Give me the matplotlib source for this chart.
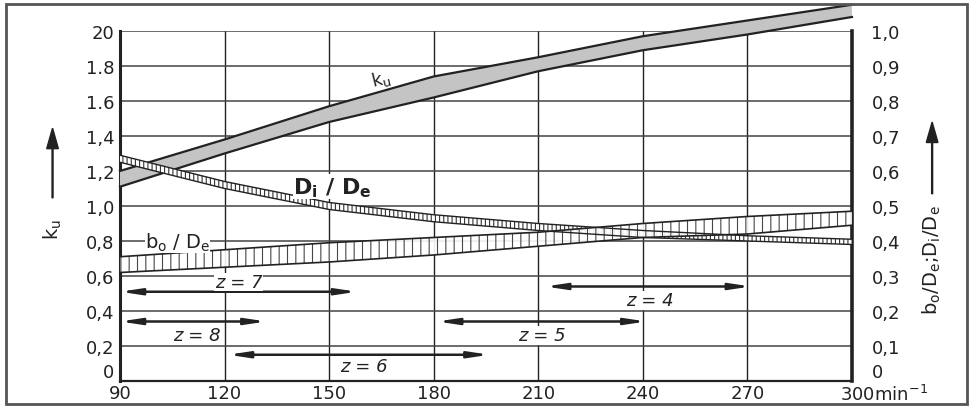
import numpy as np
import matplotlib
matplotlib.use('Agg')
import matplotlib.pyplot as plt
from matplotlib.patches import Rectangle, FancyArrow
import matplotlib.transforms as mtransforms

# speed n in min^-1
n = [90, 120, 150, 180, 210, 240, 270, 300]

# k_u band (left axis)
ku_lo = [1.11, 1.30, 1.48, 1.62, 1.77, 1.89, 1.98, 2.08]
ku_hi = [1.20, 1.38, 1.57, 1.74, 1.85, 1.97, 2.06, 2.15]

# D_i/D_e band (right axis)
di_lo = [0.625, 0.55, 0.49, 0.455, 0.43, 0.41, 0.40, 0.39]
di_hi = [0.645, 0.57, 0.51, 0.475, 0.45, 0.43, 0.415, 0.405]

# b_o/D_e band (right axis)
bo_lo = [0.31, 0.325, 0.34, 0.36, 0.385, 0.41, 0.42, 0.445]
bo_hi = [0.355, 0.375, 0.395, 0.41, 0.425, 0.45, 0.47, 0.485]

# blade number ranges: (label, n_from, n_to, k_u level, label x, label y)
z_ranges = [('z = 7', 90, 158, 0.51, 124, 0.565),
            ('z = 8', 90, 132, 0.34, 112, 0.26),
            ('z = 6', 121, 196, 0.15, 160, 0.085),
            ('z = 5', 181, 241, 0.34, 211, 0.26),
            ('z = 4', 212, 271, 0.54, 242, 0.46)]

left_ticks = [0, 0.2, 0.4, 0.6, 0.8, 1.0, 1.2, 1.4, 1.6, 1.8, 2.0]
left_labels = ['0', '0,2', '0,4', '0,6', '0,8', '1,0', '1,2', '1,4', '1.6', '1.8', '20']
right_ticks = [0, 0.1, 0.2, 0.3, 0.4, 0.5, 0.6, 0.7, 0.8, 0.9, 1.0]
right_labels = ['0', '0,1', '0,2', '0,3', '0,4', '0,5', '0,6', '0,7', '0,8', '0,9', '1,0']
x_ticks = [90, 120, 150, 180, 210, 240, 270, 300]
x_labels = ['90', '120', '150', '180', '210', '240', '270', '300min$^{-1}$']

ink = '#222222'
plt.rcParams['hatch.linewidth'] = 0.8
plt.rcParams['mathtext.default'] = 'regular'

fig = plt.figure(figsize=(9.73, 4.10), dpi=100)
fig.patches.append(Rectangle((0.006, 0.012), 0.988, 0.975, transform=fig.transFigure,
                             fill=False, edgecolor='#555555', lw=2))

ax = fig.add_axes([0.1233, 0.0683, 0.7523, 0.8537])
ax.set_xlim(90, 300)
ax.set_ylim(0, 2.0)

for xv in x_ticks[1:-1]:
    ax.axvline(xv, color=ink, lw=1.0, zorder=1)
for yv in left_ticks[1:]:
    ax.axhline(yv, color='#444444', lw=1.1, zorder=1)

ax.spines['top'].set_visible(False)
ax.spines['left'].set_linewidth(2.2)
ax.spines['right'].set_linewidth(2.6)
ax.spines['bottom'].set_linewidth(1.6)
for s in ['left', 'right', 'bottom']:
    ax.spines[s].set_color(ink)

ax.fill_between(n, ku_lo, ku_hi, facecolor='#c4c4c4', edgecolor='none',
                zorder=3, clip_on=False)
ax.plot(n, ku_lo, color=ink, lw=1.6, zorder=4, clip_on=False)
ax.plot(n, ku_hi, color=ink, lw=1.6, zorder=4, clip_on=False)

ax.set_yticks(left_ticks)
ax.set_yticklabels(left_labels)
ax.set_xticks(x_ticks)
ax.set_xticklabels(x_labels)
ax.tick_params(length=0, labelsize=13, colors=ink, pad=4)
ax.tick_params(axis='x', pad=2)
ax.get_yticklabels()[0].set_va('bottom')
last = ax.get_xticklabels()[-1]
last.set_ha('left')
last.set_transform(last.get_transform() +
                   mtransforms.ScaledTranslation(-0.12, 0, fig.dpi_scale_trans))

ax2 = ax.twinx()
ax2.set_ylim(0, 1.0)
for s in ax2.spines.values():
    s.set_visible(False)
ax2.set_yticks(right_ticks)
ax2.set_yticklabels(right_labels)
ax2.tick_params(length=0, labelsize=13, colors=ink, pad=14)
ax2.get_yticklabels()[0].set_va('bottom')

ax2.fill_between(n, di_lo, di_hi, facecolor='white', edgecolor='#333333',
                 hatch='||||', lw=0, zorder=3)
ax2.plot(n, di_lo, color=ink, lw=1.0, zorder=4)
ax2.plot(n, di_hi, color=ink, lw=1.0, zorder=4)
ax2.fill_between(n, bo_lo, bo_hi, facecolor='white', edgecolor='#333333',
                 hatch='||', lw=0, zorder=3, alpha=0.9)
ax2.plot(n, bo_lo, color=ink, lw=1.2, zorder=4)
ax2.plot(n, bo_hi, color=ink, lw=1.2, zorder=4)

# curve labels
ax2.text(165, 0.865, 'k$_u$', fontsize=13, color=ink, rotation=14,
         ha='center', va='center', zorder=5)
ax2.text(151, 0.555, 'D$_i$ / D$_e$', fontsize=16, fontweight='bold', color=ink,
         ha='center', va='center', zorder=5,
         bbox=dict(facecolor='white', edgecolor='none', pad=0.5))
ax2.text(106.5, 0.398, '$b_o$ / $D_e$', fontsize=14, color=ink,
         ha='center', va='center', zorder=5,
         bbox=dict(facecolor='white', edgecolor='none', pad=0))

# z ranges
for label, x0, x1, yv, lx, ly in z_ranges:
    ax.annotate('', xy=(x0, yv), xytext=(x1, yv),
                arrowprops=dict(arrowstyle='<|-|>,head_length=1.2,head_width=0.18',
                                color=ink, lw=1.8, shrinkA=0, shrinkB=0),
                zorder=5)
    ax.text(lx, ly, label, fontsize=13, style='italic', color=ink,
            ha='center', va='center', zorder=5,
            bbox=dict(facecolor='white', edgecolor='none', pad=0.3))

# axis titles with arrows
fig.text(0.054, 0.44, '$k_u$', fontsize=14, rotation=90, color=ink,
         ha='center', va='center')
fig.patches.append(FancyArrow(
    0.054, 0.515, 0, 0.17, width=0.001, head_width=0.012, head_length=0.05,
    length_includes_head=True, color=ink, transform=fig.transFigure))
fig.text(0.958, 0.365, '$b_o$/$D_e$;$D_i$/$D_e$', fontsize=14, rotation=90,
         color=ink, ha='center', va='center')
fig.patches.append(FancyArrow(
    0.958, 0.525, 0, 0.175, width=0.001, head_width=0.012, head_length=0.05,
    length_includes_head=True, color=ink, transform=fig.transFigure))

fig.savefig('out.png', dpi=100)
